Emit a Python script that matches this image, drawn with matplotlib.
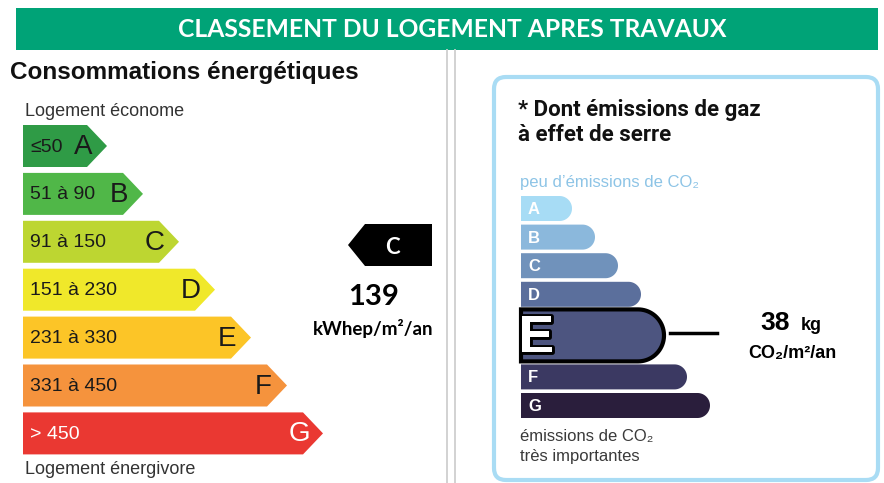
import matplotlib
matplotlib.use('Agg')
import matplotlib.pyplot as plt
from matplotlib.patches import Polygon, PathPatch, FancyBboxPatch, Rectangle
from matplotlib.path import Path
import matplotlib.patheffects as pe
import numpy as np

# ---------------- data ----------------
title = 'CLASSEMENT DU LOGEMENT APRES TRAVAUX'
classes = ['A', 'B', 'C', 'D', 'E', 'F', 'G']
energy_ranges = ['≤50', '51 à 90', '91 à 150', '151 à 230', '231 à 330', '331 à 450', '> 450']
energy_colors = ['#2f9b46', '#50b748', '#bdd631', '#f0e82a', '#fcc527', '#f5933d', '#ea3832']
energy_text_colors = ['#1a1a1a'] * 6 + ['white']
energy_value = 139
energy_unit = 'kWhep/m²/an'
energy_class = 'C'
ges_colors = ['#a7dcf5', '#8bb8dc', '#7092bb', '#5b6f9c', '#4d5580', '#3b3962', '#2a1e3c']
ges_value = 38
ges_class = 'E'

SANS = ['Liberation Sans', 'DejaVu Sans']

fig = plt.figure(figsize=(8.84, 4.83), dpi=100)
ax = fig.add_axes([0, 0, 1, 1])
ax.set_xlim(0, 884)
ax.set_ylim(483, 0)
ax.axis('off')

# header
ax.add_patch(Rectangle((16, 8), 862, 42, color='#00a377', lw=0))
ax.text(452, 29.5, title, color='white', fontsize=17.7, fontweight='bold',
        family=['Lato', 'DejaVu Sans'], ha='center', va='center')

# dividers
for xd in (447, 455):
    ax.plot([xd, xd], [50, 483], color='#cfcfcf', lw=1.3)

# ---------------- energy panel ----------------
ax.text(10, 73, 'Consommations énergétiques', fontsize=17.5, fontweight='bold',
        family=SANS, ha='left', va='center', color='#111111')
ax.text(25, 111, 'Logement économe', fontsize=13, family=SANS, ha='left',
        va='center', color='#333333')
ax.text(25, 469, 'Logement énergivore', fontsize=13, family=SANS, ha='left',
        va='center', color='#333333')

left = 23
h = 42
depth = 20
for i, (cl, rg, col, tc) in enumerate(zip(classes, energy_ranges, energy_colors, energy_text_colors)):
    top = 125 + i * 47.9
    tip = 107 + i * 36
    mid = top + h / 2
    ax.add_patch(Polygon([(left, top), (tip - depth, top), (tip, mid),
                          (tip - depth, top + h), (left, top + h)],
                         closed=True, color=col, lw=0))
    ax.text(30, mid + 1, rg, fontsize=14, family=SANS, ha='left', va='center', color=tc)
    ax.text(tip - 24, mid + 1, cl, fontsize=20, family=SANS, ha='center', va='center', color=tc)

# black indicator arrow for energy class
ax.add_patch(Polygon([(348, 245), (365, 224), (432, 224), (432, 266), (365, 266)],
                     closed=True, color='black', lw=0))
ax.text(392, 247, energy_class, color='white', fontsize=16, fontweight='bold',
        family=['Lato', 'DejaVu Sans'], ha='center', va='center')
ax.text(374, 297, str(energy_value), fontsize=21, fontweight='bold',
        family=['Lato', 'DejaVu Sans'], ha='center', va='center', color='black')
ax.text(373, 328, energy_unit, fontsize=13.5, fontweight='bold',
        family=['Lato', 'DejaVu Sans'], ha='center', va='center', color='black')

# ---------------- GES panel ----------------
ax.add_patch(FancyBboxPatch((494, 77), 384, 403,
                            boxstyle='round,pad=0,rounding_size=12',
                            facecolor='white', edgecolor='#a9dcf4', lw=3))
ax.text(518, 110, '* Dont émissions de gaz', fontsize=16, fontweight='bold',
        family=['Roboto', 'DejaVu Sans'], ha='left', va='center', color='#111111')
ax.text(518, 135, 'à effet de serre', fontsize=16, fontweight='bold',
        family=['Roboto', 'DejaVu Sans'], ha='left', va='center', color='#111111')
ax.text(520, 182, 'peu d’émissions de CO₂', fontsize=12, family=SANS,
        ha='left', va='center', color='#8dc4e6')
ax.text(520, 437, 'émissions de CO₂', fontsize=12, family=SANS,
        ha='left', va='center', color='#3a3a3a')
ax.text(520, 457, 'très importantes', fontsize=12, family=SANS,
        ha='left', va='center', color='#3a3a3a')


def rounded_bar(x0, x1, y0, y1):
    r = (y1 - y0) / 2
    cx, cy = x1 - r, (y0 + y1) / 2
    th = np.linspace(-np.pi / 2, np.pi / 2, 40)
    arc = np.column_stack([cx + r * np.cos(th), cy + r * np.sin(th)])
    verts = np.vstack([[x0, y0], [cx, y0], arc, [cx, y1], [x0, y1], [x0, y0]])
    codes = [Path.MOVETO] + [Path.LINETO] * (len(verts) - 2) + [Path.CLOSEPOLY]
    return Path(verts, codes)


gi = classes.index(ges_class)
gleft = 521
bh = 25
y = 196
gy = 0
for i, (cl, col) in enumerate(zip(classes, ges_colors)):
    right = 572 + i * 23
    if i == gi:
        y0, y1 = y - 1, y + 51
        ax.add_patch(PathPatch(rounded_bar(gleft, right, y0, y1), facecolor=col,
                               edgecolor='black', lw=3))
        t = ax.text(536, (y0 + y1) / 2 + 3, cl, fontsize=38, fontweight='bold', family=SANS,
                    ha='center', va='center', color='white')
        t.set_path_effects([pe.withStroke(linewidth=3.5, foreground='black')])
        ax.plot([670, 717], [(y0 + y1) / 2 - 2, (y0 + y1) / 2 - 2], color='black', lw=2.5)
        gy = (y0 + y1) / 2
        y = y1 + 3
    else:
        ax.add_patch(PathPatch(rounded_bar(gleft, right, y, y + bh), facecolor=col, lw=0))
        ax.text(528, y + bh / 2 + 1, cl, fontsize=12, fontweight='bold', family=SANS,
                ha='left', va='center', color='white')
        y += bh + 3.6

ax.text(775, gy - 12, str(ges_value), fontsize=19, fontweight='bold', family=SANS,
        ha='center', va='center', color='black')
ax.text(801, gy - 10, 'kg', fontsize=13, fontweight='bold', family=SANS,
        ha='left', va='center', color='black')
ax.text(792, gy + 18, 'CO₂/m²/an', fontsize=13, fontweight='bold', family=SANS,
        ha='center', va='center', color='black')

fig.savefig('out.png', dpi=100)
